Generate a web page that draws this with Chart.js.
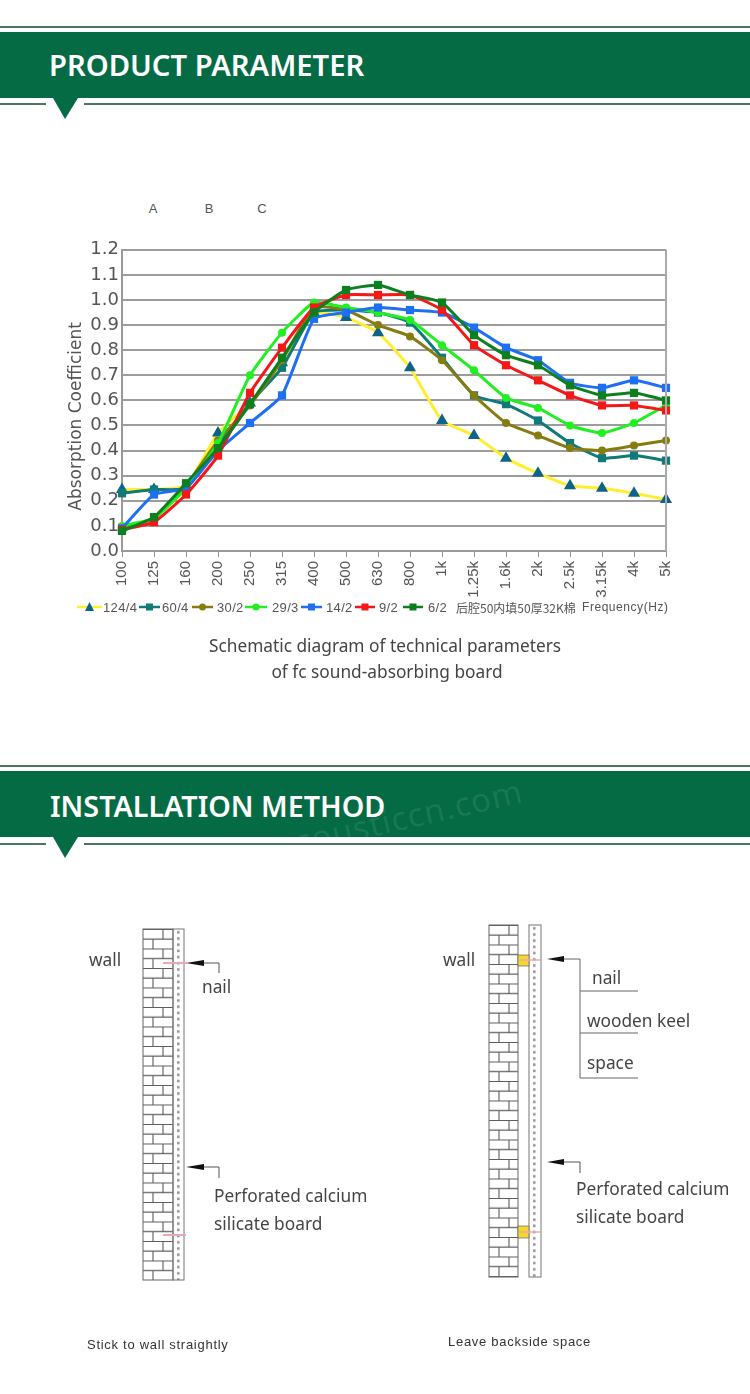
<!DOCTYPE html>
<html><head><meta charset="utf-8">
<script src="https://cdn.jsdelivr.net/npm/chart.js@4/dist/chart.umd.min.js"></script>
<style>
html,body{margin:0;padding:0;background:#fff;}
#page{position:relative;width:750px;height:1394px;overflow:hidden;background:#fff;font-family:"Noto Sans",sans-serif;}
.t{position:absolute;white-space:nowrap;line-height:1;transform:translateY(-50%);color:#444;font-size:17.3px;}
.h{color:#fff;font-weight:600;}
.c{transform:translate(-50%,-50%);}
.abc{font:13px "Liberation Sans",sans-serif;color:#555;}
.cap{font:13px "Liberation Sans",sans-serif;color:#333;letter-spacing:.72px;}
.lg{font:13px "Liberation Sans",sans-serif;color:#555;letter-spacing:.35px;}
.wm{position:absolute;left:399px;font-size:33px;line-height:1;white-space:nowrap;color:rgba(255,255,255,.09);transform:translate(-50%,-50%) rotate(-13deg);letter-spacing:1px;}
#clip{position:absolute;left:0;top:771px;width:750px;height:66px;overflow:hidden;}
#clip .wm{top:47px;}
#deco,#lgmarks{position:absolute;left:0;top:0;}
#cv{position:absolute;left:60px;top:236px;filter:blur(.35px);}
</style></head><body><div id="page">
<svg id="deco" width="750" height="1394" xmlns="http://www.w3.org/2000/svg">
<defs>
<pattern id="brick" width="30" height="19.5" patternUnits="userSpaceOnUse">
<path d="M0 0.4H30M0 10.1H30M20 0.4V10.1M10 10.1V19.5" stroke="#5c5c5c" stroke-width="1.1" fill="none"/>
</pattern>
<pattern id="dots" width="11" height="6.2" patternUnits="userSpaceOnUse">
<rect x="4" y="2" width="2.6" height="2.6" fill="#999"/>
</pattern>
</defs>
<g fill="#4b7660">
<rect x="0" y="26" width="750" height="2"/>
<rect x="0" y="103" width="46" height="2"/><rect x="84" y="103" width="666" height="2"/>
<rect x="0" y="765" width="750" height="2"/>
<rect x="0" y="843" width="46" height="2"/><rect x="84" y="843" width="666" height="2"/>
</g>
<rect x="0" y="32" width="750" height="66" fill="#046b45"/>
<rect x="0" y="771" width="750" height="66" fill="#046b45"/>
<path d="M53 98H78L65 119Z" fill="#046b45"/>
<path d="M53 837H78L65 858Z" fill="#046b45"/>
<g transform="translate(143,929)"><rect width="30" height="351" fill="url(#brick)" stroke="#666"/></g>
<g transform="translate(173,929)"><rect width="11" height="351" fill="url(#dots)" stroke="#777"/></g>
<path d="M163 963H187M163 1235H186" stroke="#e9a9b5" stroke-width="2"/>
<path d="M186 963L204 960V966Z" fill="#111"/><path d="M204 963H219V973" fill="none" stroke="#555"/>
<path d="M186 1167L204 1164V1170Z" fill="#111"/><path d="M204 1167H219V1178" fill="none" stroke="#555"/>
<g transform="translate(489,925)"><rect width="29" height="352" fill="url(#brick)" stroke="#666"/></g>
<g transform="translate(529,925)"><rect width="12" height="352" fill="url(#dots)" stroke="#777"/></g>
<rect x="518" y="955" width="11" height="11" fill="#f7d62c" stroke="#666" stroke-width=".7"/>
<rect x="518" y="1226" width="11" height="12" fill="#f7d62c" stroke="#666" stroke-width=".7"/>
<path d="M520 960H542M520 1232H542" stroke="#e9a9b5" stroke-width="1.5"/>
<path d="M547 959L564 956V962Z" fill="#111"/><path d="M564 959H580V1078M580 991H638M580 1033H638M580 1078H638" fill="none" stroke="#666"/>
<path d="M547 1162L564 1159V1165Z" fill="#111"/><path d="M564 1162H580V1173" fill="none" stroke="#555"/>
</svg>
<div id="clip"><div class="wm">acousticcn.com</div></div>
<div class="t h" style="left:49px;top:66px;font-size:29.2px">PRODUCT PARAMETER</div>
<div class="t h" style="left:50px;top:806px;font-size:28.7px">INSTALLATION METHOD</div>
<div class="t abc c" style="left:153px;top:208px">A</div>
<div class="t abc c" style="left:209px;top:208px">B</div>
<div class="t abc c" style="left:262px;top:208px">C</div>
<canvas id="cv" width="628" height="379" style="width:628px;height:379px"></canvas>
<svg id="lgmarks" width="750" height="1394" xmlns="http://www.w3.org/2000/svg"></svg>
<div class="t c" style="left:385px;top:646px">Schematic diagram of technical parameters</div>
<div class="t c" style="left:387px;top:672px">of fc sound-absorbing board</div>
<div class="t" style="left:89px;top:960px">wall</div>
<div class="t" style="left:202px;top:987px">nail</div>
<div class="t" style="left:214px;top:1196px">Perforated calcium</div>
<div class="t" style="left:214px;top:1224px">silicate board</div>
<div class="t cap" style="left:87px;top:1344px">Stick to wall straightly</div>
<div class="t" style="left:443px;top:960px">wall</div>
<div class="t" style="left:592px;top:978px">nail</div>
<div class="t" style="left:587px;top:1021px">wooden keel</div>
<div class="t" style="left:587px;top:1063px">space</div>
<div class="t" style="left:576px;top:1189px">Perforated calcium</div>
<div class="t" style="left:576px;top:1217px">silicate board</div>
<div class="t cap" style="left:448px;top:1341px">Leave backside space</div>
<div id="legend"></div>
</div>
<script>
const categories=["100","125","160","200","250","315","400","500","630","800","1k","1.25k","1.6k","2k","2.5k","3.15k","4k","5k"];
const yTicks=["0.0","0.1","0.2","0.3","0.4","0.5","0.6","0.7","0.8","0.9","1.0","1.1","1.2"];
const s124_4=[0.245,0.245,0.26,0.47,0.59,0.75,0.95,0.93,0.87,0.73,0.52,0.46,0.37,0.31,0.26,0.25,0.23,0.205];
const s60_4=[0.23,0.245,0.25,0.42,0.59,0.73,0.95,0.96,0.95,0.91,0.77,0.62,0.585,0.52,0.43,0.37,0.38,0.36];
const s30_2=[0.09,0.13,0.26,0.44,0.58,0.76,0.97,0.96,0.90,0.855,0.76,0.62,0.51,0.46,0.41,0.40,0.42,0.44];
const s29_3=[0.10,0.13,0.25,0.43,0.70,0.87,0.99,0.97,0.95,0.92,0.82,0.72,0.61,0.57,0.50,0.47,0.51,0.58];
const s14_2=[0.09,0.225,0.25,0.40,0.51,0.62,0.925,0.95,0.97,0.96,0.95,0.89,0.81,0.76,0.67,0.65,0.68,0.65];
const s9_2=[0.085,0.115,0.225,0.38,0.63,0.81,0.97,1.02,1.02,1.02,0.96,0.82,0.74,0.68,0.62,0.58,0.58,0.56];
const s6_2=[0.08,0.135,0.27,0.41,0.585,0.77,0.95,1.04,1.06,1.02,0.99,0.86,0.78,0.74,0.66,0.62,0.63,0.60];
const seriesNames=["124/4","60/4","30/2","29/3","14/2","9/2","6/2"];
const seriesValues=[s124_4,s60_4,s30_2,s29_3,s14_2,s9_2,s6_2];
const lineColors=["#ffef2e","#0f7a78","#857c12","#22ee22","#1f6ff2","#f51818","#0e7f1e"];
const markerColors=["#0e6488","#0f7a78","#857c12","#22ee22","#1f6ff2","#f51818","#0e7f1e"];
const markerStyles=["triangle","rect","circle","circle","rect","rect","rect"];
const markerSizes=[7,5.8,4,4,5.8,5.8,5.8];

new Chart(document.getElementById('cv'),{
 type:'line',
 data:{labels:categories,datasets:seriesNames.map((n,i)=>({
   label:n,data:seriesValues[i],borderColor:lineColors[i],backgroundColor:markerColors[i],
   pointBackgroundColor:markerColors[i],pointBorderColor:markerColors[i],pointBorderWidth:0,
   pointStyle:markerStyles[i],pointRadius:markerSizes[i],borderWidth:3,tension:0.15,
   clip:false,order:seriesNames.length-i,fill:false}))},
 options:{responsive:false,animation:false,devicePixelRatio:1,
  layout:{padding:{top:0,right:6,left:0,bottom:0}},
  plugins:{legend:{display:false},tooltip:{enabled:false}},
  scales:{
   x:{offset:false,afterFit(s){s.height=64;},
      grid:{display:true,drawOnChartArea:false,drawTicks:true,tickLength:6,color:'#999'},
      border:{color:'#999',width:2},
      ticks:{maxRotation:90,minRotation:90,autoSkip:false,color:'#555',padding:4,font:{family:'"Liberation Sans"',size:15}}},
   y:{min:0,max:1.2,afterFit(s){s.width=62;},
      afterBuildTicks(s){s.ticks=yTicks.map(v=>({value:parseFloat(v)}));},
      grid:{color:'#9c9c9c',lineWidth:2,drawTicks:false},
      border:{color:'#999',width:2},
      title:{display:true,text:'Absorption Coefficient',color:'#555',padding:{top:6,bottom:0},font:{family:'DejaVu Sans',size:17}},
      ticks:{color:'#555',padding:3,font:{family:'DejaVu Sans',size:18},callback:v=>v.toFixed(1)}}
  }},
 plugins:[{id:'frame',
  afterLayout(c){const s=c.scales.y;if(!s._shifted){s._shifted=true;const d=s.drawTitle.bind(s);
    s.drawTitle=function(){c.ctx.save();c.ctx.translate(0,16);d();c.ctx.restore();};}},
  afterDraw(c){const a=c.chartArea,x=c.ctx;x.save();x.strokeStyle='#aaa';x.lineWidth=2;
   x.beginPath();x.moveTo(a.right,a.top);x.lineTo(a.right,a.bottom);x.stroke();x.restore();}}]
});

const lineSpans=[[77,102],[139,160],[192,213],[245,267],[301,322],[355,375],[403,423]];
const textStarts=[103,162,217,272,326,379,428];
const lgY=607;
const svg=document.getElementById('lgmarks');let m='';
seriesNames.forEach((n,i)=>{
 const [a,b]=lineSpans[i],cx=(a+b)/2,col=markerColors[i];
 m+=`<line x1="${a}" x2="${b}" y1="${lgY}" y2="${lgY}" stroke="${lineColors[i]}" stroke-width="2.5"/>`;
 if(markerStyles[i]==='triangle')m+=`<path d="M${cx-4.5} ${lgY+4}H${cx+4.5}L${cx} ${lgY-5}Z" fill="${col}"/>`;
 else if(markerStyles[i]==='rect')m+=`<rect x="${cx-3.5}" y="${lgY-3.5}" width="7" height="7" fill="${col}"/>`;
 else m+=`<circle cx="${cx}" cy="${lgY}" r="3.5" fill="${col}"/>`;
});
svg.innerHTML=m;
let h='';
seriesNames.forEach((n,i)=>{h+=`<div class="t lg" style="left:${textStarts[i]}px;top:${lgY}px">${n}</div>`;});
h+=`<div class="t lg" style="left:456px;top:${lgY}px;font-family:'Noto Sans CJK SC';font-size:12px;letter-spacing:0">后腔50内填50厚32K棉</div>`;
h+=`<div class="t lg" style="left:582px;top:${lgY}px;font-size:12px;letter-spacing:.55px">Frequency(Hz)</div>`;
document.getElementById('legend').innerHTML=h;
</script></body></html>
